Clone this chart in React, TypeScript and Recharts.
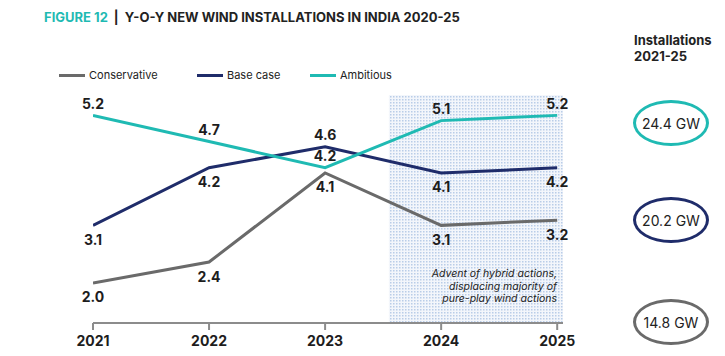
import { LineChart, Line, XAxis, YAxis, ReferenceArea, LabelList } from 'recharts';

const years = [2021, 2022, 2023, 2024, 2025];
const conservative = [2.0, 2.4, 4.1, 3.1, 3.2];
const baseCase = [3.1, 4.2, 4.6, 4.1, 4.2];
const ambitious = [5.2, 4.7, 4.2, 5.1, 5.2];

const FONT = 'Inter, "Noto Sans", sans-serif';
const TEAL = '#1fbab3';
const NAVY = '#1f2c6a';
const GREY = '#6a6a6a';

const data = years.map((year, i) => ({
  year,
  conservative: conservative[i],
  baseCase: baseCase[i],
  ambitious: ambitious[i],
}));

const sum = (arr: number[]) => arr.reduce((a, b) => a + b, 0).toFixed(1);

// labels go above or below the line depending on which series sits on top
const makeLabel = (series: 'conservative' | 'baseCase' | 'ambitious') => (props: any) => {
  const { x, y, value, index } = props;
  let above = series === 'ambitious';
  if (series === 'baseCase') above = baseCase[index] > ambitious[index];
  return (
    <text
      x={x}
      y={above ? y - 12 : y + 14}
      textAnchor="middle"
      dominantBaseline="central"
      fontFamily={FONT}
      fontSize={14}
      fontWeight={700}
      fill="#1d1d1d"
    >
      {Number(value).toFixed(1)}
    </text>
  );
};

const legendItems = [
  { name: 'Conservative', color: GREY, left: 59 },
  { name: 'Base case', color: NAVY, left: 197 },
  { name: 'Ambitious', color: TEAL, left: 310 },
];

const totals = [
  { value: sum(ambitious), color: TEAL, top: 100 },
  { value: sum(baseCase), color: NAVY, top: 197 },
  { value: sum(conservative), color: GREY, top: 299 },
];

export default function App() {
  return (
    <div style={{ position: 'absolute', left: 0, top: 0, width: 725, height: 356, background: '#fff', fontFamily: FONT }}>
      {/* Title */}
      <div style={{ position: 'absolute', left: 44, top: 9, fontSize: 13, fontWeight: 700, color: '#222', whiteSpace: 'nowrap' }}>
        <span style={{ color: TEAL }}>FIGURE 12</span>
        <span style={{ margin: '0 6px' }}>|</span>
        <span>Y-O-Y NEW WIND INSTALLATIONS IN INDIA 2020-25</span>
      </div>

      {/* Legend */}
      {legendItems.map((item) => (
        <div key={item.name} style={{ position: 'absolute', left: item.left, top: 68, display: 'flex', alignItems: 'center', fontSize: 11, color: '#222' }}>
          <div style={{ width: 26, height: 3, background: item.color, marginRight: 4 }} />
          <span>{item.name}</span>
        </div>
      ))}

      <LineChart width={725} height={356} data={data} margin={{ top: 95, right: 162, left: 93, bottom: 3 }}>
        <defs>
          <pattern id="dots" width="3" height="3" patternUnits="userSpaceOnUse">
            <rect width="3" height="3" fill="#f3f6fb" />
            <rect width="1.5" height="1.5" fill="#b9cde8" />
          </pattern>
        </defs>
        <XAxis
          dataKey="year"
          type="number"
          domain={[2021, 2025.05]}
          ticks={years}
          allowDataOverflow
          height={30}
          tickSize={7}
          tickMargin={6}
          axisLine={{ stroke: '#8c8c8c', strokeWidth: 2 }}
          tickLine={{ stroke: '#8c8c8c', strokeWidth: 2 }}
          tick={{ fill: '#1d1d1d', fontSize: 14, fontWeight: 700, fontFamily: FONT }}
        />
        <YAxis hide domain={[1.236, 5.589]} allowDataOverflow />
        <ReferenceArea x1={2023.55} x2={2025.05} y1={1.236} y2={5.589} fill="url(#dots)" fillOpacity={1} stroke="none" ifOverflow="visible" />
        <Line type="linear" dataKey="conservative" stroke={GREY} strokeWidth={3} dot={false} isAnimationActive={false}>
          <LabelList dataKey="conservative" content={makeLabel('conservative')} />
        </Line>
        <Line type="linear" dataKey="baseCase" stroke={NAVY} strokeWidth={3} dot={false} isAnimationActive={false}>
          <LabelList dataKey="baseCase" content={makeLabel('baseCase')} />
        </Line>
        <Line type="linear" dataKey="ambitious" stroke={TEAL} strokeWidth={3} dot={false} isAnimationActive={false}>
          <LabelList dataKey="ambitious" content={makeLabel('ambitious')} />
        </Line>
      </LineChart>

      {/* Annotation */}
      <div style={{ position: 'absolute', right: 725 - 557, top: 268, textAlign: 'right', fontSize: 10.5, fontStyle: 'italic', color: '#222', lineHeight: '12.5px', whiteSpace: 'nowrap' }}>
        Advent of hybrid actions,<br />displacing majority of<br />pure-play wind actions
      </div>

      {/* Totals */}
      <div style={{ position: 'absolute', left: 634, top: 32, fontSize: 13, fontWeight: 700, color: '#222', lineHeight: '16px' }}>
        Installations<br />2021-25
      </div>
      {totals.map((t) => (
        <div
          key={t.value}
          style={{
            position: 'absolute',
            left: 633,
            top: t.top,
            width: 70,
            height: 40,
            border: `3.5px solid ${t.color}`,
            borderRadius: '50%',
            display: 'flex',
            alignItems: 'center',
            justifyContent: 'center',
            fontSize: 14,
            color: '#222',
          }}
        >
          {t.value} GW
        </div>
      ))}
    </div>
  );
}
